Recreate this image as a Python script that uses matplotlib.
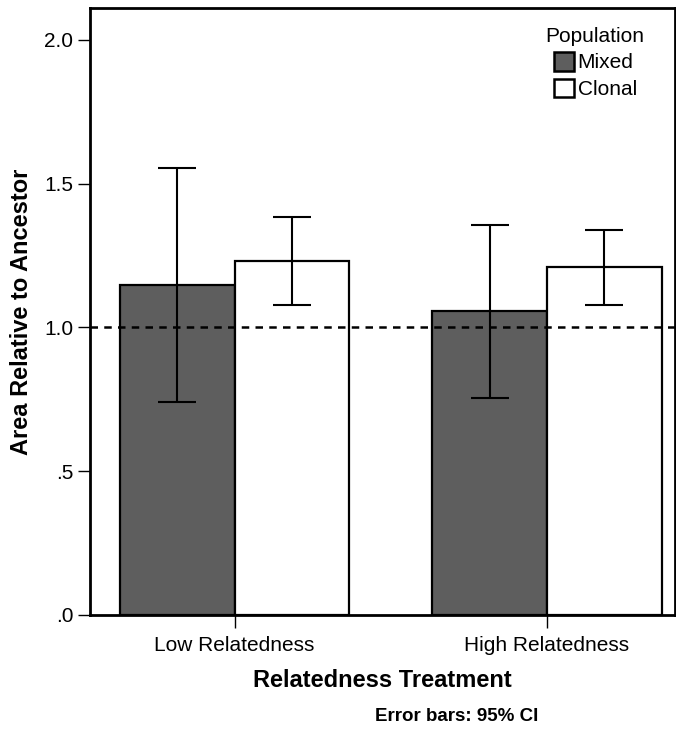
import matplotlib.pyplot as plt
from matplotlib.patches import Patch

plt.rcParams["font.family"] = ["Liberation Sans", "DejaVu Sans"]

#### Data ####
treatments = ["Low Relatedness", "High Relatedness"]
populations = ["Mixed", "Clonal"]
mixed_mean = [1.148, 1.057]
mixed_lo = [0.741, 0.755]
mixed_hi = [1.555, 1.357]
clonal_mean = [1.231, 1.210]
clonal_lo = [1.078, 1.078]
clonal_hi = [1.384, 1.339]
yticks = [0.0, 0.5, 1.0, 1.5, 2.0]
ytick_labels = [".0", ".5", "1.0", "1.5", "2.0"]

colors = {"Mixed": "#5e5e5e", "Clonal": "white"}

#### Figure ####
fig = plt.figure(figsize=(6.76, 7.31), dpi=100)
ax = fig.add_axes([0.1331, 0.1587, 0.865, 0.8303])

x = list(range(len(treatments)))
width = 0.367

series = [
    ("Mixed", mixed_mean, mixed_lo, mixed_hi, -width / 2),
    ("Clonal", clonal_mean, clonal_lo, clonal_hi, width / 2),
]
for name, mean, lo, hi, off in series:
    xs = [xi + off for xi in x]
    ax.bar(xs, mean, width=width, color=colors[name], edgecolor="black",
           linewidth=1.6, zorder=2)
    yerr = [[m - l for m, l in zip(mean, lo)], [h - m for m, h in zip(mean, hi)]]
    ax.errorbar(xs, mean, yerr=yerr, fmt="none", ecolor="black",
                elinewidth=1.5, capsize=14, capthick=1.5, zorder=3)

# reference line at 1.0
ax.axhline(1.0, color="black", linestyle=(0, (3, 2.5)), linewidth=1.8, zorder=4)

ax.set_xlim(-0.463, 1.409)
ax.set_ylim(0, 2.111)
ax.set_yticks(yticks)
ax.set_yticklabels(ytick_labels)
ax.set_xticks(x)
ax.set_xticklabels(treatments)
ax.tick_params(axis="both", labelsize=15, length=9, width=1, color="black")
ax.tick_params(axis="y", pad=3)
ax.tick_params(axis="x", pad=6)

for s in ax.spines.values():
    s.set_linewidth(2)

ax.set_xlabel("Relatedness Treatment", fontsize=17, fontweight="bold", labelpad=10)
ax.set_ylabel("Area Relative to Ancestor", fontsize=17, fontweight="bold", labelpad=8)

# legend
handles = [Patch(facecolor=colors[p], edgecolor="black", linewidth=1.8) for p in populations]
leg = ax.legend(handles, populations, title="Population", loc="upper right",
                bbox_to_anchor=(0.97, 0.99), frameon=False, fontsize=15,
                title_fontsize=15, handlelength=1.0, handleheight=1.0,
                handletextpad=0.15, labelspacing=0.3, borderaxespad=0.2)

fig.text(0.676, 0.02, "Error bars: 95% CI", fontsize=13.5, fontweight="bold",
         ha="center", va="center")

fig.savefig("out.png", dpi=100)
